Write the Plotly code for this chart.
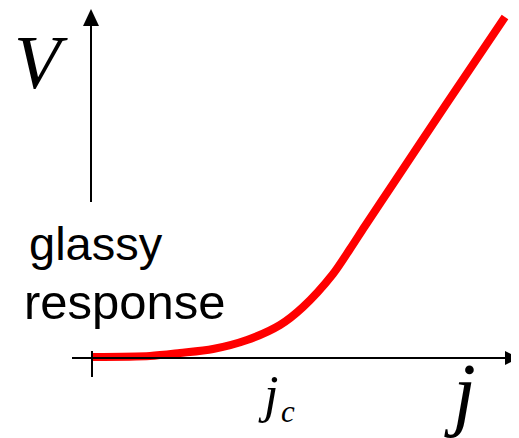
import plotly.graph_objects as go

# Data (j in units of 100 px from the origin, V likewise)
j_values = [0.01, 0.58, 0.88, 1.21, 1.55, 1.88, 2.11, 2.41, 2.58, 2.73, 3.01, 3.53, 4.13]
v_values = [0.01, 0.02, 0.05, 0.09, 0.18, 0.33, 0.51, 0.84, 1.09, 1.32, 1.74, 2.52, 3.41]
y_label = "V"
x_label = "j"
jc_main = "j"
jc_sub = "c"
regime_label = ["glassy", "response"]

W, H = 519, 438
OFF = 8  # page body margin of the generated html
X0, Y0, S = 92, 358, 100.0  # origin pixel (reference), px per unit


def dx(px):
    return (px - X0) / S


def dy(py):
    return (Y0 - py) / S


fig = go.Figure()

fig.add_trace(go.Scatter(
    x=j_values, y=v_values, mode="lines",
    line=dict(color="#ff0000", width=8, shape="spline", smoothing=0.8),
    hoverinfo="skip", showlegend=False,
))

shapes = []
# horizontal axis
shapes.append(dict(type="line", x0=dx(72), x1=dx(508), y0=dy(358), y1=dy(358),
                   line=dict(color="black", width=2)))
shapes.append(dict(type="path",
                   path=f"M {dx(519)} {dy(358)} L {dx(505)} {dy(351)} L {dx(505)} {dy(365)} Z",
                   fillcolor="black", line=dict(color="black", width=0)))
# tick at origin
shapes.append(dict(type="line", x0=dx(92), x1=dx(92), y0=dy(351), y1=dy(377),
                   line=dict(color="black", width=2)))
# vertical axis
shapes.append(dict(type="line", x0=dx(91), x1=dx(91), y0=dy(202), y1=dy(24),
                   line=dict(color="black", width=2)))
shapes.append(dict(type="path",
                   path=f"M {dx(91)} {dy(9)} L {dx(83)} {dy(26)} L {dx(99)} {dy(26)} Z",
                   fillcolor="black", line=dict(color="black", width=0)))

serif = "Liberation Serif, Times New Roman, serif"
sans = "Liberation Sans, Arial, sans-serif"

annotations = [
    dict(x=dx(41), y=dy(62), text=f"<i>{y_label}</i>", showarrow=False,
         font=dict(family=serif, size=76, color="black"), xanchor="center", yanchor="middle"),
    dict(x=dx(460), y=dy(392), text=f"<i>{x_label}</i>", showarrow=False,
         font=dict(family=serif, size=82, color="black"), xanchor="center", yanchor="middle"),
    dict(x=dx(268), y=dy(394), text=f"<i>{jc_main}</i>", showarrow=False,
         font=dict(family=serif, size=52, color="black"), xanchor="center", yanchor="middle"),
    dict(x=dx(288), y=dy(411), text=f"<i>{jc_sub}</i>", showarrow=False,
         font=dict(family=serif, size=31, color="black"), xanchor="center", yanchor="middle"),
    dict(x=dx(27), y=dy(243), text=regime_label[0], showarrow=False,
         font=dict(family=sans, size=47, color="black"), xanchor="left", yanchor="middle"),
    dict(x=dx(22), y=dy(302), text=regime_label[1], showarrow=False,
         font=dict(family=sans, size=49, color="black"), xanchor="left", yanchor="middle"),
]

fig.update_layout(
    width=W - OFF, height=H - OFF,
    margin=dict(l=0, r=0, t=0, b=0),
    paper_bgcolor="white", plot_bgcolor="white",
    xaxis=dict(range=[dx(OFF), dx(W)], visible=False, fixedrange=True),
    yaxis=dict(range=[dy(H), dy(OFF)], visible=False, fixedrange=True),
    shapes=shapes, annotations=annotations, showlegend=False,
)

fig.write_html("out.html", config={"displayModeBar": False})
